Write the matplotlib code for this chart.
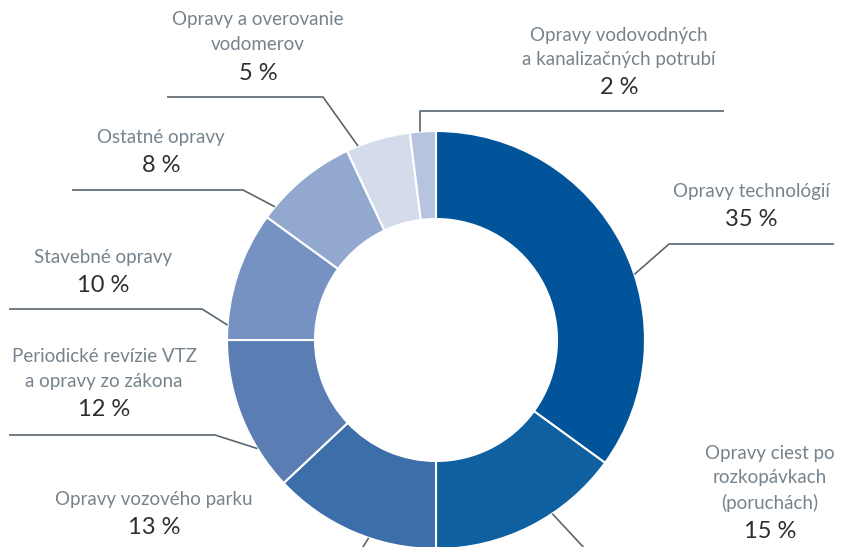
import math
import matplotlib.pyplot as plt

# slice data, clockwise from 12 o'clock
labels = [
    "Opravy technológií",
    "Opravy ciest po\nrozkopávkach\n(poruchách)",
    "Opravy vozového parku",
    "Periodické revízie VTZ\na opravy zo zákona",
    "Stavebné opravy",
    "Ostatné opravy",
    "Opravy a overovanie\nvodomerov",
    "Opravy vodovodných\na kanalizačných potrubí",
]
shares = [35, 15, 13, 12, 10, 8, 5, 2]
colors = ["#02549a", "#0e60a0", "#3c6ea9", "#5a7eb4",
          "#7592c2", "#93a8cf", "#d4dceb", "#b7c4e0"]

W, H = 864, 547
CX, CY = 436, 340          # centre in screen pixels
R_OUT, R_IN = 209, 121

# label layout (screen px): text centre x, first line centre y
text_pos = [(751, 192), (770, 453), (154, 500), (104, 357),
            (103, 257), (161, 138), (258, 20), (619, 35)]
# leader: anchor angle on outer rim, elbow, end
leaders = [
    (18.3, (669, 244), (834, 244)),
    (-56.2, (600, 565), (600, 565)),
    (-108.8, (355, 560), (355, 560)),
    (-148.7, (215, 435), (9, 435)),
    (175.9, (202, 309), (9, 309)),
    (140.4, (243, 190), (72, 190)),
    (111.9, (323, 97), (167, 97)),
    (94.4, (420, 111), (724, 111)),
]

NAME_COLOR = "#76838c"
PCT_COLOR = "#2e2e2e"
LINE_COLOR = "#5a6670"
FONT = ["Lato", "DejaVu Sans"]
LINE_STEP = 25
PCT_STEP = 28

fig = plt.figure(figsize=(W / 100, H / 100), dpi=100)
ax = fig.add_axes([0, 0, 1, 1])

ax.pie(shares, colors=colors, startangle=90, counterclock=False,
       center=(CX, H - CY), radius=R_OUT,
       wedgeprops=dict(width=R_OUT - R_IN, edgecolor="white", linewidth=1.5))
ax.set_aspect("equal")
ax.set_xlim(0, W)
ax.set_ylim(0, H)
ax.axis("off")

for (ang, elbow, end) in leaders:
    a = math.radians(ang)
    x0 = CX + R_OUT * math.cos(a)
    y0 = (H - CY) + R_OUT * math.sin(a)
    ax.plot([x0, elbow[0], end[0]], [y0, H - elbow[1], H - end[1]],
            color=LINE_COLOR, lw=1.2, solid_capstyle="butt")

for lab, val, (tx, ty) in zip(labels, shares, text_pos):
    lines = lab.split("\n")
    for i, ln in enumerate(lines):
        ax.text(tx, H - (ty + i * LINE_STEP), ln, ha="center", va="center",
                fontsize=13.5, color=NAME_COLOR, family=FONT)
    y_pct = ty + (len(lines) - 1) * LINE_STEP + PCT_STEP
    ax.text(tx, H - y_pct, f"{val} %", ha="center", va="center",
            fontsize=17, color=PCT_COLOR, family=FONT)

fig.savefig("out.png", dpi=100)
